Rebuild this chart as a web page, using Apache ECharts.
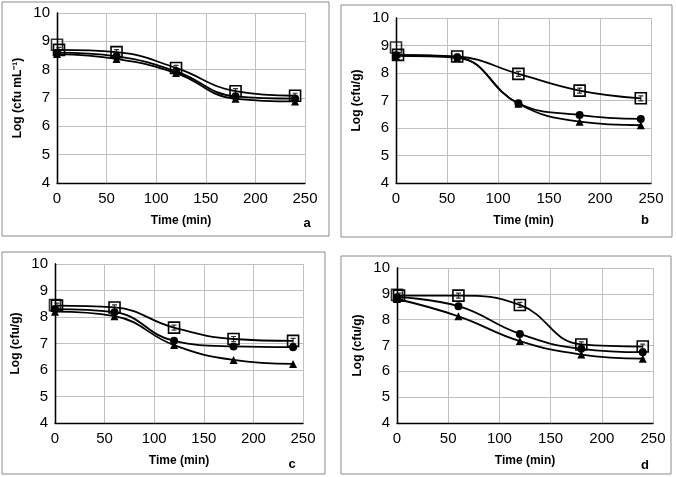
<!DOCTYPE html>
<html><head><meta charset="utf-8">
<script src="https://cdn.jsdelivr.net/npm/echarts@6/dist/echarts.min.js"></script>
<style>html,body{margin:0;padding:0;background:#fff}#c{width:676px;height:477px}</style>
</head><body><div id="c"></div>
<script>
// ---- data ----
var xTicks = [0, 50, 100, 150, 200, 250];
var yTicks = [4, 5, 6, 7, 8, 9, 10];
var timeSq = [2, 60, 120, 180, 240];
var timeFill = [0, 60, 120, 180, 240];
var panelLetters = ['a', 'b', 'c', 'd'];
var yNames = ['Log (cfu mL\u207B\u00B9)', 'Log (cfu/g)', 'Log (cfu/g)', 'Log (cfu/g)'];

// initial count (t = 0) shown as lone open square
var initA = 8.88, initB = 8.93, initC = 8.45, initD = 8.96;
// open squares
var sqA = [8.70, 8.62, 8.06, 7.24, 7.08];
var sqB = [8.66, 8.60, 7.97, 7.36, 7.08];
var sqC = [8.43, 8.36, 7.60, 7.17, 7.10];
var sqD = [8.93, 8.93, 8.57, 7.04, 6.96];
// filled circles
var ciA = [8.60, 8.47, 7.94, 7.06, 6.98];
var ciB = [8.65, 8.57, 6.90, 6.47, 6.33];
var ciC = [8.30, 8.18, 7.10, 6.89, 6.86];
var ciD = [8.87, 8.52, 7.45, 6.87, 6.74];
// filled triangles
var trA = [8.55, 8.38, 7.88, 6.97, 6.88];
var trB = [8.62, 8.55, 6.88, 6.23, 6.10];
var trC = [8.20, 8.03, 6.94, 6.38, 6.23];
var trD = [8.80, 8.13, 7.17, 6.65, 6.49];

var inits = [initA, initB, initC, initD];
var sqs = [sqA, sqB, sqC, sqD];
var cis = [ciA, ciB, ciC, ciD];
var trs = [trA, trB, trC, trD];

// ---- layout ----
var grids = [
  {left: 57, top: 13, width: 248, height: 170},
  {left: 396, top: 18, width: 255, height: 165},
  {left: 55, top: 264, width: 248, height: 159},
  {left: 397, top: 268, width: 256, height: 155}
];
var frames = [
  [2, 2, 327, 234],
  [341, 5, 331, 232],
  [2, 252, 323, 222],
  [341, 256, 330, 218]
];
var letterPos = [[307, 223], [645, 220], [292, 464], [645, 465]];

function pairs(xs, ys) { return xs.map(function (x, i) { return [x, ys[i]]; }); }

var FONT = '"Liberation Sans", Arial, sans-serif';
var option = {
  animation: false,
  grid: [], xAxis: [], yAxis: [], series: [], graphic: []
};

grids.forEach(function (g, i) {
  option.grid.push(g);
  option.xAxis.push({
    gridIndex: i, type: 'value', min: 0, max: 250, interval: 50,
    name: 'Time (min)', nameLocation: 'middle', nameGap: 32,
    nameTextStyle: {fontFamily: FONT, fontWeight: 'bold', fontSize: 12, color: '#000'},
    axisLine: {show: true, onZero: false, lineStyle: {color: '#000', width: 1.3}},
    axisTick: {show: false},
    axisLabel: {fontFamily: FONT, fontSize: 15, color: '#000', margin: 8},
    splitLine: {show: true, lineStyle: {color: '#c0c0c0', width: 1}}
  });
  option.yAxis.push({
    gridIndex: i, type: 'value', min: 4, max: 10, interval: 1,
    name: yNames[i], nameLocation: 'middle', nameGap: 33,
    nameTextStyle: {fontFamily: FONT, fontWeight: 'bold', fontSize: 12, color: '#000'},
    axisLine: {show: true, onZero: false, lineStyle: {color: '#000', width: 1.3}},
    axisTick: {show: false},
    axisLabel: {fontFamily: FONT, fontSize: 15, color: '#000', margin: 7},
    splitLine: {show: true, lineStyle: {color: '#c0c0c0', width: 1}}
  });
  // right border of plot area
  option.yAxis.push({
    gridIndex: i, type: 'value', min: 4, max: 10, interval: 1, position: 'right',
    axisLine: {show: true, lineStyle: {color: '#000', width: 1.3}},
    axisTick: {show: false}, axisLabel: {show: false}, splitLine: {show: false}
  });
  var yi = i * 2;
  var base = {xAxisIndex: i, yAxisIndex: yi, z: 3};
  option.series.push(Object.assign({}, base, {
    type: 'line', smooth: 0.45, data: pairs(timeSq, sqs[i]),
    symbol: 'rect', symbolSize: 11, showSymbol: true,
    lineStyle: {color: '#000', width: 1.8},
    itemStyle: {color: 'rgba(255,255,255,0)', borderColor: '#000', borderWidth: 1.6}
  }));
  option.series.push(Object.assign({}, base, {
    type: 'line', smooth: 0.45, data: pairs(timeFill, cis[i]),
    symbol: 'circle', symbolSize: 8,
    lineStyle: {color: '#000', width: 1.8},
    itemStyle: {color: '#000'}
  }));
  option.series.push(Object.assign({}, base, {
    type: 'line', smooth: 0.45, data: pairs(timeFill, trs[i]),
    symbol: 'triangle', symbolSize: 8,
    lineStyle: {color: '#000', width: 1.8},
    itemStyle: {color: '#000'}
  }));
  // small error-bar glyph inside the squares
  option.series.push(Object.assign({}, base, {
    type: 'scatter', data: pairs(timeSq, sqs[i]),
    symbol: 'path://M0,0L6,0M3,0L3,7M0,7L6,7', symbolSize: [5, 5],
    itemStyle: {color: 'none', borderColor: '#000', borderWidth: 1.2}, z: 4
  }));
  // initial count square
  option.series.push(Object.assign({}, base, {
    type: 'scatter', data: [[0, inits[i]]],
    symbol: 'rect', symbolSize: 11,
    itemStyle: {color: 'rgba(255,255,255,0)', borderColor: '#000', borderWidth: 1.6}
  }));
  var f = frames[i];
  option.graphic.push({
    type: 'rect', shape: {x: f[0], y: f[1], width: f[2], height: f[3]},
    style: {fill: 'none', stroke: '#8a8a8a', lineWidth: 1}, silent: true
  });
  option.graphic.push({
    type: 'text', x: letterPos[i][0], y: letterPos[i][1],
    style: {text: panelLetters[i], font: 'bold 13px ' + FONT, fill: '#000',
      textAlign: 'center', textVerticalAlign: 'middle'}
  });
});

var chart = echarts.init(document.getElementById('c'), null, {renderer: 'canvas'});
chart.setOption(option);
</script>
</body></html>
